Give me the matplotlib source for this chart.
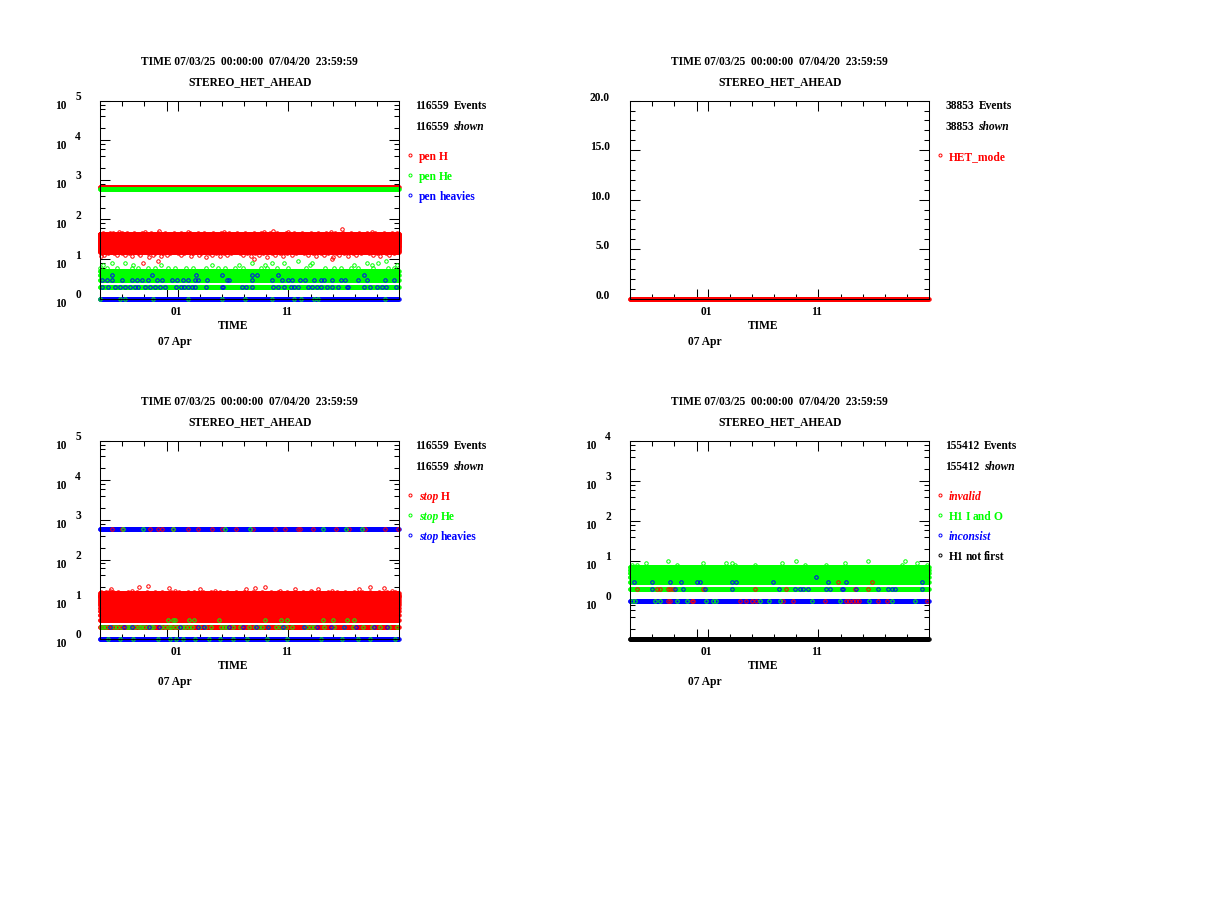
import re
import numpy as np
import matplotlib
matplotlib.use('Agg')
import matplotlib.pyplot as plt
from matplotlib.lines import Line2D
from matplotlib.ticker import FixedLocator, LogLocator, NullFormatter, MultipleLocator

W, H = 1228, 921
FONT = 'Liberation Serif'
FS = 8.3
SPACE_PX = 0.2 * FS * 100 / 72
RED, GREEN, BLUE, BLACK = '#ff0000', '#00ff00', '#0000ff', '#000000'
ITALIC_WORDS = {'shown', 'stop', 'inconsist', 'invalid'}
MS, MEW = 2.5, 0.7

title_time = 'TIME 07/03/25  00:00:00  07/04/20  23:59:59'
title_inst = 'STEREO_HET_AHEAD'

# time axis in days since 07/03/25 00:00
n_days = 27
major_tick_days = [6, 7, 17]            # Mar 31, Apr 01, Apr 11
minor_tick_days = [0, 2, 4, 9, 11, 13, 15, 19, 21, 23, 25]
date_labels = ['01', '11']
date_label_days = [7, 17]
hour_grid = np.arange(0, n_days * 24) / 24.0

# ---------------- panel 1 : penetrating ----------------
pen_events = 116559
pen_h_dense = [680] + list(range(15, 45))
pen_h_extra = [
    (45, [0.3, 1.2, 2.4, 3.8, 5.2, 6.7, 8.1, 9.4, 10.9, 12.4, 13.9, 15.3, 16.8, 18.2, 19.7, 21.2, 22.6, 24.1, 25.6, 26.8]),
    (46, [0.9, 2.0, 3.1, 4.6, 5.9, 7.3, 8.8, 10.2, 11.6, 13.1, 14.5, 16.0, 17.5, 19.0, 20.4, 21.9, 23.4, 24.8, 26.3]),
    (48, [1.7, 4.1, 7.9, 11.2, 14.8, 17.0, 20.8, 24.5]),
    (52, [5.3, 15.6]),
    (56, [21.8]),
    (14, [0.2, 0.7, 1.3, 2.0, 2.6, 3.4, 4.3, 5.0, 5.7, 6.3, 7.0, 7.6, 8.4, 9.1, 9.8, 10.5, 11.2, 11.8, 12.6, 13.3,
          14.0, 14.7, 15.5, 16.2, 16.9, 17.7, 18.4, 19.2, 19.9, 20.6, 21.3, 22.0, 22.8, 23.5, 24.3, 25.0, 25.8, 26.5]),
    (13, [0.4, 1.5, 2.3, 3.6, 4.8, 6.0, 7.3, 8.9, 10.1, 11.5, 12.9, 14.3, 15.8, 17.3, 18.8, 20.2, 21.6, 23.1, 24.6, 26.1]),
    (12, [0.1, 2.9, 5.5, 8.2, 10.8, 13.6, 16.5, 19.5, 22.4, 25.3]),
    (11, [4.4, 9.6, 15.1, 21.0]),
    (10, [13.9, 20.9]),
    (9, [5.2]),
    (8, [3.9]),
]
pen_he_dense = [600, 2, 3, 4, 5]
pen_he_extra = [
    (1, [0.0, 1.81, 2.26, 4.8, 7.98, 11.0, 13.1, 15.5, 17.5, 18.1, 19.3, 19.7, 25.7]),
    (6, [0.0, 0.6, 1.5, 2.9, 3.4, 4.37, 5.0, 6.17, 6.77, 7.8, 8.4, 9.6, 10.6, 11.3, 12.2, 12.9, 14.5, 15.1,
         16.0, 17.0, 18.6, 20.3, 21.1, 21.7, 22.6, 23.3, 24.6, 26.0, 26.5]),
    (7, [0.3, 3.0, 5.5, 10.1, 12.5, 14.9, 18.9, 22.9, 24.5, 26.8]),
    (8, [1.06, 2.26, 13.7, 15.5, 16.6, 19.1, 24.1, 25.1]),
    (9, [17.9, 25.8]),
]
pen_heavy_dense = [1]
pen_heavy_extra = [
    (2, [0.15, 0.75, 1.36, 1.81, 2.26, 2.71, 3.16, 3.46, 4.07, 4.52, 4.97, 5.42, 5.87, 6.9, 7.3, 7.6, 7.98, 8.28,
         8.58, 9.6, 11.0, 11.1, 12.8, 13.2, 13.7, 15.65, 16.1, 16.6, 17.2, 17.5, 17.9, 18.8, 19.1, 19.6, 19.9,
         20.5, 20.9, 21.5, 22.3, 22.4, 23.8, 24.4, 25.0, 25.4, 25.8, 26.7]),
    (3, [0.15, 0.6, 1.06, 1.96, 2.86, 3.3, 3.77, 4.37, 5.1, 5.57, 6.47, 6.93, 7.5, 7.97, 8.6, 8.88, 9.64, 11.45,
         11.6, 13.7, 15.5, 16.4, 17.0, 17.3, 18.07, 18.5, 19.3, 19.9, 20.2, 20.9, 21.7, 22.1, 23.3, 24.1, 25.7, 26.5]),
    (4, [1.06, 4.67, 8.7, 11.0, 13.7, 14.15, 16.1, 23.8]),
]

# ---------------- panel 2 : HET mode ----------------
mode_events = 38853
het_mode_dense = [0]

# ---------------- panel 3 : stopping ----------------
stop_events = 116559
stop_h_dense = [2, 3] + list(range(4, 15))
stop_h_extra = [
    (15, [0.1, 0.5, 1.2, 1.6, 2.5, 3.3, 4.2, 5.0, 5.6, 6.4, 7.1, 7.9, 8.5, 9.3, 10.0, 10.8, 11.5, 12.3, 13.0, 13.8,
          14.6, 15.4, 16.1, 16.9, 17.6, 18.3, 19.1, 19.8, 20.6, 21.4, 22.1, 22.9, 23.6, 24.4, 25.2, 25.9, 26.6]),
    (16, [0.9, 2.9, 6.8, 10.4, 16.2, 19.0, 20.9, 26.3]),
    (18, [1.0, 9.0, 13.2, 17.6, 19.7, 23.4]),
    (19, [6.2, 14.0, 25.6]),
    (20, [3.5, 14.9, 24.4]),
    (21, [4.3]),
    (600, [1.05, 1.95, 4.5, 5.26, 5.56, 6.6, 7.97, 8.87, 10.1, 11.0, 12.3, 13.8, 15.8, 16.7, 17.9, 18.0, 19.2,
           21.3, 22.5, 23.9, 25.7, 26.9]),
]
stop_he_dense = []
stop_he_extra = [
    (600, [2.1, 3.9, 6.6, 11.3, 13.5, 20.1, 22.2, 23.6]),
    (3, [6.1, 6.6, 6.8, 8.0, 8.5, 10.7, 14.9, 16.3, 16.9, 20.1, 21.0, 22.3, 22.9]),
    (2, [0.1, 0.3, 0.5, 0.9, 1.3, 1.5, 1.9, 2.4, 2.6, 2.8, 3.2, 3.5, 3.7, 4.0, 4.3, 4.6, 4.8, 5.5, 5.9, 6.2, 6.4,
         6.8, 7.1, 7.4, 7.7, 8.0, 8.3, 8.9, 9.5, 10.0, 10.9, 11.2, 11.5, 12.0, 12.6, 13.4, 14.0, 14.3, 14.6, 15.2,
         15.9, 16.2, 16.5, 16.8, 17.3, 18.4, 18.7, 19.0, 19.3, 20.2, 21.1, 22.0, 22.8, 23.7, 24.5, 25.3, 26.1, 26.8]),
    (1, [0.75, 1.8, 3.0, 5.27, 6.3, 6.9, 7.5, 8.6, 9.8, 10.8, 12.0, 13.25, 15.1, 16.9, 19.9, 21.8, 23.3, 24.4, 26.6]),
]
stop_heavy_dense = [600, 1]
stop_heavy_extra = [
    (2, [0.9, 2.2, 2.9, 4.4, 5.3, 7.2, 8.8, 9.4, 11.6, 12.9, 14.1, 15.2, 16.5, 18.4, 19.6, 20.8, 22.0, 23.1,
         24.7, 25.9]),
]

# ---------------- panel 4 : flags ----------------
flag_events = 155412
invalid_dense = []
invalid_extra = [
    (3, [18.8, 21.8]),
    (2, [0.6, 2.4, 2.7, 3.46, 3.6, 3.9, 6.6, 11.3, 14.1, 20.3, 21.5]),
    (1, [3.46, 3.6, 5.56, 5.7, 9.9, 10.5, 11.0, 11.4, 13.8, 14.7, 17.6, 19.5, 19.8, 20.1, 20.4, 20.7, 22.4,
         23.2, 26.8]),
]
h1_io_dense = [2, 3, 4, 5, 6, 7]
h1_io_extra = [
    (1, [0.15, 0.45, 2.25, 2.7, 4.2, 5.1, 6.9, 7.5, 7.8, 11.7, 12.5, 13.5, 16.4, 18.9, 21.6, 23.6, 25.7]),
    (8, [0.15, 0.6, 4.2, 9.5, 11.3, 15.8, 17.7, 24.5, 26.8]),
    (9, [1.44, 6.6, 8.7, 9.2, 13.7, 19.4, 25.9]),
    (10, [3.4, 15.0, 21.5, 24.8]),
]
inconsist_dense = [1]
inconsist_extra = [
    (4, [16.8]),
    (3, [0.36, 1.95, 3.6, 4.57, 6.0, 6.3, 9.17, 9.6, 12.9, 17.9, 19.5, 26.3]),
    (2, [1.95, 4.06, 4.8, 6.76, 9.17, 13.4, 14.9, 15.3, 15.6, 16.1, 17.7, 18.0, 19.1, 19.2, 20.4, 22.4, 23.3,
         23.6, 23.9, 26.3]),
]
h1_not_first_dense = [0]

# ------------------------------------------------------------
fig = plt.figure(figsize=(W / 100, H / 100), dpi=100)
renderer = fig.canvas.get_renderer()


def ftext(x, y, s, **kw):
    kw.setdefault('color', BLACK)
    return fig.text(x / W, 1 - y / H, s, fontsize=FS, family=FONT, weight='bold', va='center', **kw)


def put_words(x, y, text, color):
    for tok in re.findall(r'\S+|\s+', text):
        if tok.isspace():
            x += len(tok) * SPACE_PX
            continue
        style = 'italic' if tok in ITALIC_WORDS else 'normal'
        t = ftext(x, y, tok, color=color, ha='left', style=style)
        x += t.get_window_extent(renderer).width


def draw_rows(ax, dense, color, ylo):
    if not dense:
        return
    xs = np.tile(hour_grid, len(dense))
    ys = np.repeat(np.asarray(dense, float), len(hour_grid))
    ax.plot(xs, np.maximum(ys, ylo), 'o', mfc='none', mec=color, ms=MS, mew=MEW, clip_on=False)


def draw_extra(ax, extra, color, ylo):
    for lv, days in extra:
        ax.plot(days, np.maximum(np.full(len(days), float(lv)), ylo), 'o', mfc='none', mec=color,
                ms=MS, mew=MEW, clip_on=False)


def panel(box, series, events, log_exps=None, ylim=None):
    L, T, R, B = box
    ax = fig.add_axes([L / W, 1 - B / H, (R - L) / W, (B - T) / H])
    ax.set_xlim(0, n_days)
    if log_exps is not None:
        ax.set_yscale('log')
        ax.set_ylim(*ylim)
        ax.yaxis.set_major_locator(LogLocator(base=10, numticks=12))
        ax.yaxis.set_minor_locator(LogLocator(base=10, subs=(2, 4, 6, 8), numticks=12))
        for e in log_exps:
            ax.annotate('10', xy=(0, 10.0 ** e), xycoords=('axes fraction', 'data'), xytext=(-39, -5.5),
                        textcoords='offset pixels', ha='center', va='center', fontsize=FS, family=FONT,
                        weight='bold', annotation_clip=False)
            ax.annotate(str(e), xy=(0, 10.0 ** e), xycoords=('axes fraction', 'data'), xytext=(-22, 3.5),
                        textcoords='offset pixels', ha='center', va='center', fontsize=FS, family=FONT,
                        weight='bold', annotation_clip=False)
    else:
        ax.set_ylim(*ylim)
        ax.yaxis.set_major_locator(MultipleLocator(5))
        ax.yaxis.set_minor_locator(MultipleLocator(1))
        for v in np.arange(ylim[0], ylim[1] + 0.1, 5):
            ax.annotate('%.1f' % v, xy=(0, v), xycoords=('axes fraction', 'data'), xytext=(-20, 3),
                        textcoords='offset pixels', ha='right', va='center', fontsize=FS, family=FONT,
                        weight='bold', annotation_clip=False)
    ax.yaxis.set_major_formatter(NullFormatter())
    ax.yaxis.set_minor_formatter(NullFormatter())
    ax.xaxis.set_major_locator(FixedLocator(major_tick_days))
    ax.xaxis.set_minor_locator(FixedLocator(minor_tick_days))
    ax.xaxis.set_major_formatter(NullFormatter())
    ax.xaxis.set_minor_formatter(NullFormatter())
    ax.tick_params(which='both', direction='in', top=True, right=True, width=0.75, color=BLACK)
    ax.tick_params(which='major', length=7.2)
    ax.tick_params(which='minor', length=3.6)
    for sp in ax.spines.values():
        sp.set_linewidth(0.75)
    ax.set_zorder(1)
    ax.patch.set_alpha(0)

    ylo = ylim[0]
    for name, dense, extra, color in series:
        draw_rows(ax, dense, color, ylo)
    for name, dense, extra, color in series:
        draw_extra(ax, extra, color, ylo)

    for d, lab in zip(date_label_days, date_labels):
        ax.annotate(lab, xy=(d, 0), xycoords=('data', 'axes fraction'), xytext=(-1.5, -13.6),
                    textcoords='offset pixels', ha='center', va='center', fontsize=FS, family=FONT,
                    weight='bold', annotation_clip=False)
    ftext(L + 133.3, B + 27.3, 'TIME', ha='center')
    ftext(L + 75, B + 43.6, '07 Apr', ha='center')

    ftext((L + R) / 2, T - 38.7, title_time, ha='center')
    ftext((L + R) / 2, T - 18.7, title_inst, ha='center')

    put_words(R + 16, T + 5.3, '%d  Events' % events, BLACK)
    put_words(R + 16, T + 26.6, '%d  shown' % events, BLACK)
    for i, (name, dense, extra, color) in enumerate(series):
        yy = T + 54.6 + 20 * i
        fig.add_artist(Line2D([(R + 10.7) / W], [1 - yy / H], marker='o', mfc='none', mec=color,
                              ms=2.2, mew=MEW, linestyle='none', transform=fig.transFigure))
        put_words(R + 19.7, yy + 2, name, color)
    return ax


panel((100, 100.7, 399.3, 298.7),
      [('pen H', pen_h_dense, pen_h_extra, RED),
       ('pen He', pen_he_dense, pen_he_extra, GREEN),
       ('pen heavies', pen_heavy_dense, pen_heavy_extra, BLUE)],
      pen_events, log_exps=[0, 1, 2, 3, 4, 5], ylim=(1, 1e5))

panel((630, 100.7, 929.3, 298.7),
      [('HET_mode', het_mode_dense, [], RED)],
      mode_events, log_exps=None, ylim=(0.0, 20.0))

panel((100, 440.7, 399.3, 638.7),
      [('stop H', stop_h_dense, stop_h_extra, RED),
       ('stop He', stop_he_dense, stop_he_extra, GREEN),
       ('stop heavies', stop_heavy_dense, stop_heavy_extra, BLUE)],
      stop_events, log_exps=[0, 1, 2, 3, 4, 5], ylim=(1, 1e5))

panel((630, 440.7, 929.3, 638.7),
      [('invalid', invalid_dense, invalid_extra, RED),
       ('H1 I and O', h1_io_dense, h1_io_extra, GREEN),
       ('inconsist', inconsist_dense, inconsist_extra, BLUE),
       ('H1 not first', h1_not_first_dense, [], BLACK)],
      flag_events, log_exps=[0, 1, 2, 3, 4], ylim=(10 ** -0.95, 1e4))

fig.savefig('out.png', dpi=100)
